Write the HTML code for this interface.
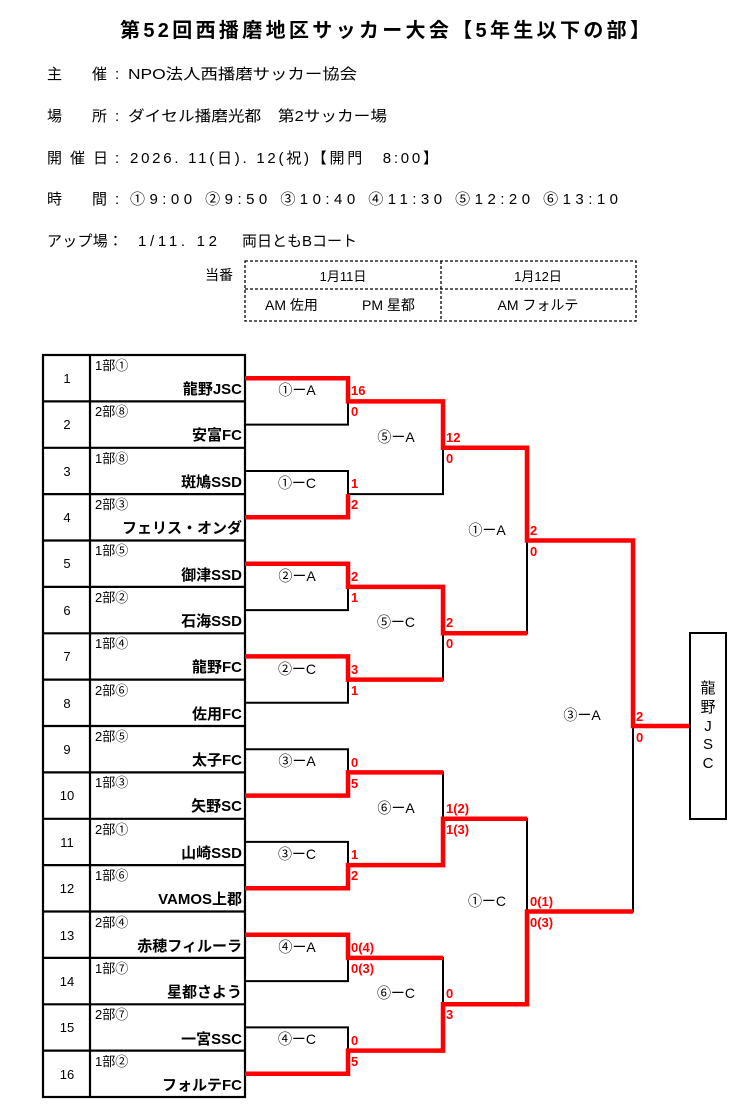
<!DOCTYPE html>
<html><head><meta charset="utf-8"><style>
html,body{margin:0;padding:0;background:#fff;}
svg{display:block;}
text{font-family:"Liberation Sans","Noto Sans CJK JP",sans-serif;fill:#000;}
.h{font-size:15px;}
.s{font-size:13px;}
.t{font-size:15px;font-weight:bold;text-anchor:end;}
.n{font-size:13px;text-anchor:middle;}
.m{font-size:14px;text-anchor:middle;}
.r{font-size:13px;font-weight:bold;fill:#f00;}
.k{stroke:#000;stroke-width:2;fill:none;}
.red{stroke:#f00;stroke-width:4.5;fill:none;stroke-linejoin:miter;}
</style></head><body>
<svg width="755" height="1117" viewBox="0 0 755 1117" xmlns="http://www.w3.org/2000/svg">
<text x="120" y="37" style="font-size:20px;font-weight:bold" textLength="530">第52回西播磨地区サッカー大会【5年生以下の部】</text>
<text class="h" x="47" y="79">主</text><text class="h" x="92" y="79">催</text><text class="h" x="115" y="79">:</text><text class="h" x="128" y="79" textLength="229" lengthAdjust="spacingAndGlyphs">NPO法人西播磨サッカー協会</text>
<text class="h" x="47" y="121">場</text><text class="h" x="92" y="121">所</text><text class="h" x="115" y="121">:</text><text class="h" x="128" y="121" textLength="259" lengthAdjust="spacingAndGlyphs">ダイセル播磨光都　第2サッカー場</text>
<text class="h" x="47" y="163">開</text><text class="h" x="70" y="163">催</text><text class="h" x="93" y="163">日</text><text class="h" x="115" y="163">:</text><text class="h" x="130" y="163" textLength="308">2026. 11(日). 12(祝)【開門　8:00】</text>
<text class="h" x="47" y="204">時</text><text class="h" x="92" y="204">間</text><text class="h" x="115" y="204">:</text><text class="h" x="130" y="204" textLength="488">①9:00  ②9:50  ③10:40  ④11:30  ⑤12:20  ⑥13:10</text>
<text class="h" x="47" y="246" textLength="76">アップ場：</text><text class="h" x="138" y="246" textLength="79">1/11. 12</text><text class="h" x="242" y="246" textLength="115">両日ともBコート</text>

<g stroke="#000" stroke-width="1.3" stroke-dasharray="3,2" fill="none">
<rect x="245" y="261" width="391" height="60"/>
<line x1="245" y1="289" x2="636" y2="289"/>
<line x1="441" y1="261" x2="441" y2="321"/>
</g>
<text x="205" y="280" style="font-size:14px">当番</text>
<text class="m" x="343" y="281" style="font-size:13px">1月11日</text>
<text class="m" x="538" y="281" style="font-size:13px">1月12日</text>
<text x="265" y="310" style="font-size:14px">AM 佐用</text>
<text x="362" y="310" style="font-size:14px">PM 星都</text>
<text class="m" x="538" y="310" style="font-size:14px">AM フォルテ</text>

<g stroke="#000" stroke-width="2.2" fill="none">
<rect x="43" y="355" width="202" height="742"/>
<line x1="90" y1="355" x2="90" y2="1097"/>
<line x1="43" y1="401.4" x2="245" y2="401.4"/><line x1="43" y1="447.8" x2="245" y2="447.8"/>
<line x1="43" y1="494.1" x2="245" y2="494.1"/><line x1="43" y1="540.5" x2="245" y2="540.5"/>
<line x1="43" y1="586.9" x2="245" y2="586.9"/><line x1="43" y1="633.3" x2="245" y2="633.3"/>
<line x1="43" y1="679.6" x2="245" y2="679.6"/><line x1="43" y1="726" x2="245" y2="726"/>
<line x1="43" y1="772.4" x2="245" y2="772.4"/><line x1="43" y1="818.8" x2="245" y2="818.8"/>
<line x1="43" y1="865.1" x2="245" y2="865.1"/><line x1="43" y1="911.5" x2="245" y2="911.5"/>
<line x1="43" y1="957.9" x2="245" y2="957.9"/><line x1="43" y1="1004.3" x2="245" y2="1004.3"/>
<line x1="43" y1="1050.6" x2="245" y2="1050.6"/>
</g>
<g>
<text class="n" x="67" y="383">1</text><text class="s" x="95" y="370">1部①</text><text class="t" x="242" y="394">龍野JSC</text>
<text class="n" x="67" y="429">2</text><text class="s" x="95" y="416">2部⑧</text><text class="t" x="242" y="440">安富FC</text>
<text class="n" x="67" y="476">3</text><text class="s" x="95" y="463">1部⑧</text><text class="t" x="242" y="487">斑鳩SSD</text>
<text class="n" x="67" y="522">4</text><text class="s" x="95" y="509">2部③</text><text class="t" x="242" y="533">フェリス・オンダ</text>
<text class="n" x="67" y="568">5</text><text class="s" x="95" y="555">1部⑤</text><text class="t" x="242" y="580">御津SSD</text>
<text class="n" x="67" y="615">6</text><text class="s" x="95" y="602">2部②</text><text class="t" x="242" y="626">石海SSD</text>
<text class="n" x="67" y="661">7</text><text class="s" x="95" y="648">1部④</text><text class="t" x="242" y="672">龍野FC</text>
<text class="n" x="67" y="708">8</text><text class="s" x="95" y="695">2部⑥</text><text class="t" x="242" y="719">佐用FC</text>
<text class="n" x="67" y="754">9</text><text class="s" x="95" y="741">2部⑤</text><text class="t" x="242" y="765">太子FC</text>
<text class="n" x="67" y="800">10</text><text class="s" x="95" y="787">1部③</text><text class="t" x="242" y="811">矢野SC</text>
<text class="n" x="67" y="847">11</text><text class="s" x="95" y="834">2部①</text><text class="t" x="242" y="858">山崎SSD</text>
<text class="n" x="67" y="893">12</text><text class="s" x="95" y="880">1部⑥</text><text class="t" x="242" y="904">VAMOS上郡</text>
<text class="n" x="67" y="940">13</text><text class="s" x="95" y="927">2部④</text><text class="t" x="242" y="951">赤穂フィルーラ</text>
<text class="n" x="67" y="986">14</text><text class="s" x="95" y="973">1部⑦</text><text class="t" x="242" y="997">星都さよう</text>
<text class="n" x="67" y="1032">15</text><text class="s" x="95" y="1019">2部⑦</text><text class="t" x="242" y="1044">一宮SSC</text>
<text class="n" x="67" y="1079">16</text><text class="s" x="95" y="1066">1部②</text><text class="t" x="242" y="1090">フォルテFC</text>
</g>

<g class="k">
<polyline points="245,378.2 348,378.2 348,424.6 245,424.6"/>
<polyline points="245,471 348,471 348,517.3 245,517.3"/>
<polyline points="245,563.7 348,563.7 348,610.1 245,610.1"/>
<polyline points="245,656.4 348,656.4 348,702.8 245,702.8"/>
<polyline points="245,749.2 348,749.2 348,795.6 245,795.6"/>
<polyline points="245,841.9 348,841.9 348,888.3 245,888.3"/>
<polyline points="245,934.7 348,934.7 348,981.1 245,981.1"/>
<polyline points="245,1027.4 348,1027.4 348,1073.8 245,1073.8"/>
<polyline points="348,401.4 443,401.4 443,494.1 348,494.1"/>
<polyline points="348,586.9 443,586.9 443,679.6 348,679.6"/>
<polyline points="348,772.4 443,772.4 443,865.1 348,865.1"/>
<polyline points="348,957.9 443,957.9 443,1050.6 348,1050.6"/>
<polyline points="443,447.8 527,447.8 527,633.3 443,633.3"/>
<polyline points="443,818.8 527,818.8 527,1004.3 443,1004.3"/>
<polyline points="527,540.5 633,540.5 633,911.5 527,911.5"/>
</g>
<g class="red">
<polyline points="245,378.2 348,378.2 348,401.4 443,401.4 443,447.8 527,447.8 527,540.5 633,540.5 633,726 690,726"/>
<polyline points="245,517.3 348,517.3 348,494.1"/>
<polyline points="245,563.7 348,563.7 348,586.9 443,586.9 443,633.3 527,633.3"/>
<polyline points="245,656.4 348,656.4 348,679.6 443,679.6"/>
<polyline points="245,795.6 348,795.6 348,772.4 443,772.4"/>
<polyline points="245,888.3 348,888.3 348,865.1 443,865.1 443,818.8 527,818.8"/>
<polyline points="245,934.7 348,934.7 348,957.9 443,957.9"/>
<polyline points="245,1073.8 348,1073.8 348,1050.6 443,1050.6 443,1004.3 527,1004.3 527,911.5 633,911.5"/>
</g>

<g>
<text class="m" x="297" y="395">①ーA</text>
<text class="m" x="297" y="488">①ーC</text>
<text class="m" x="297" y="581">②ーA</text>
<text class="m" x="297" y="674">②ーC</text>
<text class="m" x="297" y="766">③ーA</text>
<text class="m" x="297" y="859">③ーC</text>
<text class="m" x="297" y="952">④ーA</text>
<text class="m" x="297" y="1044">④ーC</text>
<text class="m" x="396" y="442">⑤ーA</text>
<text class="m" x="396" y="627">⑤ーC</text>
<text class="m" x="396" y="813">⑥ーA</text>
<text class="m" x="396" y="998">⑥ーC</text>
<text class="m" x="487" y="535">①ーA</text>
<text class="m" x="487" y="906">①ーC</text>
<text class="m" x="582" y="720">③ーA</text>
</g>

<g>
<text class="r" x="351" y="395">16</text><text class="r" x="351" y="416">0</text>
<text class="r" x="351" y="488">1</text><text class="r" x="351" y="509">2</text>
<text class="r" x="351" y="581">2</text><text class="r" x="351" y="602">1</text>
<text class="r" x="351" y="674">3</text><text class="r" x="351" y="695">1</text>
<text class="r" x="351" y="767">0</text><text class="r" x="351" y="788">5</text>
<text class="r" x="351" y="859">1</text><text class="r" x="351" y="880">2</text>
<text class="r" x="351" y="952">0(4)</text><text class="r" x="351" y="973">0(3)</text>
<text class="r" x="351" y="1045">0</text><text class="r" x="351" y="1066">5</text>
<text class="r" x="446" y="442">12</text><text class="r" x="446" y="463">0</text>
<text class="r" x="446" y="627">2</text><text class="r" x="446" y="648">0</text>
<text class="r" x="446" y="813">1(2)</text><text class="r" x="446" y="834">1(3)</text>
<text class="r" x="446" y="998">0</text><text class="r" x="446" y="1019">3</text>
<text class="r" x="530" y="535">2</text><text class="r" x="530" y="556">0</text>
<text class="r" x="530" y="906">0(1)</text><text class="r" x="530" y="927">0(3)</text>
<text class="r" x="636" y="721">2</text><text class="r" x="636" y="742">0</text>
</g>

<rect x="690" y="633" width="36" height="186" fill="none" stroke="#000" stroke-width="2"/>
<g style="font-size:15px;text-anchor:middle">
<text x="708" y="693">龍</text>
<text x="708" y="712">野</text>
<text x="708" y="731">J</text>
<text x="708" y="749">S</text>
<text x="708" y="768">C</text>
</g>
</svg>
</body></html>
